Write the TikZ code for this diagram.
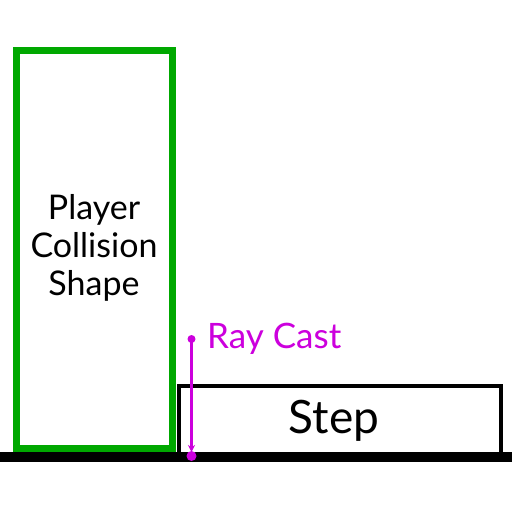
\documentclass[tikz,border=0pt]{standalone}
\usepackage{fontspec}
\setmainfont{Lato}
\usepackage{tikz}
\usetikzlibrary{arrows.meta, positioning}

\definecolor{shapegreen}{RGB}{0,168,0}
\definecolor{raypink}{RGB}{204,0,221}

\begin{document}
\begin{tikzpicture}[x=1pt, y=-1pt]
            \useasboundingbox (0,0) rectangle (512,512);
            \fill[white] (0,0) rectangle (512,512);

            % player shape
            \draw[shapegreen, line width=7pt] (16.5,50.5) rectangle (172.5,448.5);
            \node[align=center, font=\fontsize{34}{38}\selectfont] (player) at (94,248) {Player\\Collision\\Shape};

            % step and floor
            \draw[line width=4pt] (178.5,385.5) rectangle (500.5,455);
            \node[font=\fontsize{46}{50}\selectfont, anchor=base] (step) at (334,433) {Step};
            \draw[line width=10pt] (0,456.5) -- (512,456.5);

            % ray cast
            \coordinate (rayTop) at (191.5,339);
            \coordinate (rayEnd) at (191.5,456);
            \coordinate (rayTip) at (191.5,452);
            \draw[raypink, line width=2.5pt, -{Stealth[length=7pt, width=7pt]}] (rayTop) -- (rayTip);
            \fill[raypink] (rayTop) circle (4);
            \fill[raypink] (rayEnd) circle (5);
            \node[raypink, font=\fontsize{35}{38}\selectfont, anchor=base west, inner sep=0pt] (raylabel) at (207,348) {Ray Cast};
        \end{tikzpicture}
\end{document}
